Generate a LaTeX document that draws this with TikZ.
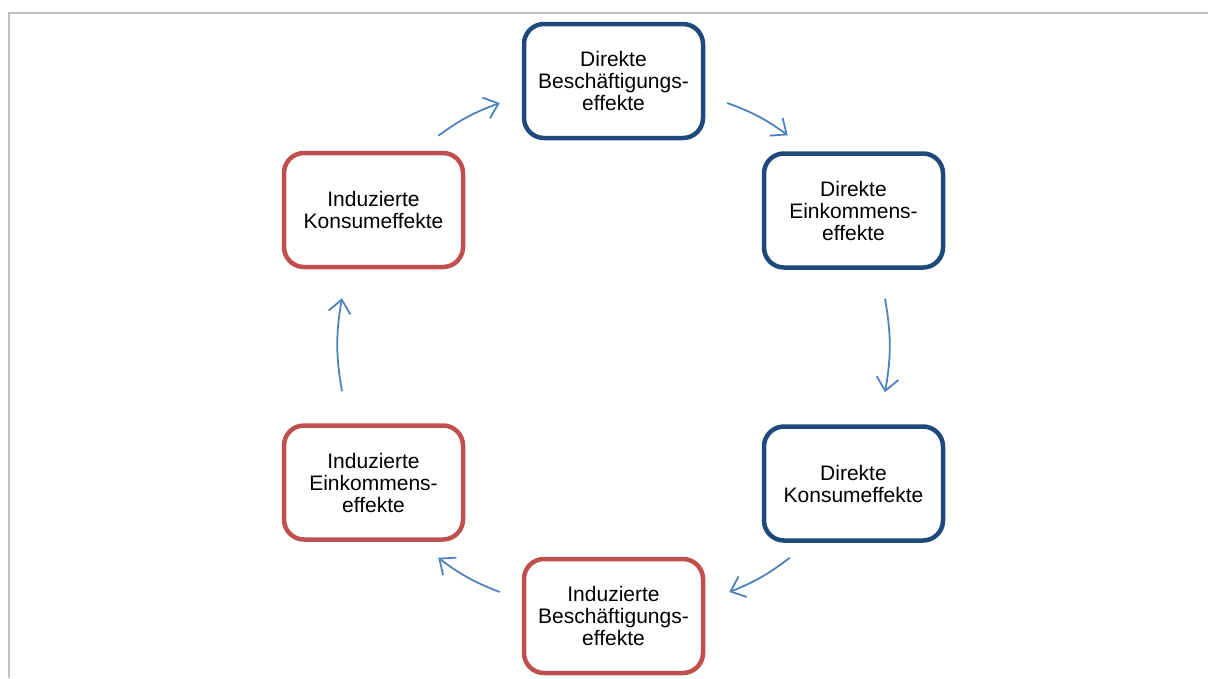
\documentclass[tikz,border=0pt]{standalone}
\usepackage{fontspec}
\setmainfont{Liberation Sans}
\usepackage{tikz}
\usetikzlibrary{arrows.meta}

\definecolor{dunkelblau}{RGB}{31,73,125}
\definecolor{dunkelrot}{RGB}{192,80,77}
\definecolor{pfeilblau}{RGB}{79,129,189}
\definecolor{rahmengrau}{RGB}{191,191,191}

\tikzset{
  kasten/.style={draw, rounded corners=20pt, line width=4.5pt, fill=white,
    minimum width=179pt, minimum height=114pt, align=center,
    font=\fontsize{21}{22}\selectfont},
  blau/.style={kasten, draw=dunkelblau},
  rot/.style={kasten, draw=dunkelrot},
  pfeil/.style={-{Straight Barb[length=13pt,width=22pt]}, line width=1.8pt, pfeilblau}
}

\begin{document}
\begin{tikzpicture}[x=1pt, y=-1pt]
            \useasboundingbox (0,0) rectangle (1208,678);
            \draw[rahmengrau, line width=2pt] (9,678) -- (9,13) -- (1208,13);

            % Kaesten
            \node[blau] (dbesch) at (613.5,81) {Direkte\\Beschäftigungs-\\effekte};
            \node[blau] (deink) at (853.5,210.5) {Direkte\\Einkommens-\\effekte};
            \node[blau] (dkons) at (853.5,483.5) {Direkte\\Konsumeffekte};
            \node[rot] (ibesch) at (613.5,616) {Induzierte\\Beschäftigungs-\\effekte};
            \node[rot] (ieink) at (373.5,482.5) {Induzierte\\Einkommens-\\effekte};
            \node[rot] (ikons) at (373.5,210) {Induzierte\\Konsumeffekte};

            % Pfeile
            \draw[pfeil] ([xshift=-27pt,yshift=15pt]ikons.north east) to[bend left=8] ([xshift=-22pt,yshift=-22pt]dbesch.west);
            \draw[pfeil] ([xshift=22pt,yshift=-22pt]dbesch.east) to[bend left=8] ([xshift=26pt,yshift=16pt]deink.north west);
            \draw[pfeil] ([xshift=31.5pt,yshift=-29pt]deink.south) to[bend left=10] ([xshift=31.5pt,yshift=32pt]dkons.north);
            \draw[pfeil] ([xshift=28pt,yshift=-15pt]dkons.south west) to[bend left=8] ([xshift=24pt,yshift=24pt]ibesch.east);
            \draw[pfeil] ([xshift=-22pt,yshift=24pt]ibesch.west) to[bend left=8] ([xshift=-27pt,yshift=-16pt]ieink.south east);
            \draw[pfeil] ([xshift=-31.5pt,yshift=32pt]ieink.north) to[bend left=10] ([xshift=-31.5pt,yshift=-29pt]ikons.south);
          \end{tikzpicture}
\end{document}
